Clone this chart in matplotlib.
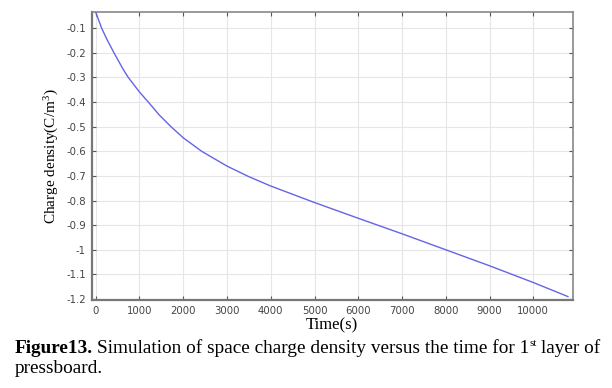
import matplotlib
matplotlib.use("Agg")
import matplotlib.pyplot as plt

# Data
time_s = [0, 137, 250, 418, 631, 745, 1000, 1203, 1450, 1721, 2000, 2422, 3000,
          3500, 4000, 5000, 6000, 7000, 8000, 9000, 10000, 10790]
charge = [-0.035, -0.1, -0.143, -0.2, -0.268, -0.3, -0.359, -0.4, -0.452, -0.5,
          -0.545, -0.6, -0.66, -0.703, -0.741, -0.808, -0.872, -0.935, -1.0,
          -1.065, -1.133, -1.19]
xticks = [0, 1000, 2000, 3000, 4000, 5000, 6000, 7000, 8000, 9000, 10000]
yticks = [-0.1, -0.2, -0.3, -0.4, -0.5, -0.6, -0.7, -0.8, -0.9, -1, -1.1, -1.2]
ytick_labels = ["-0.1", "-0.2", "-0.3", "-0.4", "-0.5", "-0.6", "-0.7", "-0.8",
                "-0.9", "-1", "-1.1", "-1.2"]

plt.rcParams["mathtext.fontset"] = "custom"
plt.rcParams["mathtext.rm"] = "Liberation Serif"
plt.rcParams["mathtext.it"] = "Liberation Serif:italic"

W, H = 612, 388
fig = plt.figure(figsize=(W / 100, H / 100), dpi=100)
left, right, top, bottom = 91.5, 572.7, 12, 300
ax = fig.add_axes([left / W, 1 - bottom / H, (right - left) / W, (bottom - top) / H])

ax.plot(time_s, charge, color="#6464e6", lw=1.0)
ax.set_xlim(-96, 10900)
ax.set_ylim(-1.204, -0.034)
ax.set_xticks(xticks)
ax.set_xticklabels([str(v) for v in xticks])
ax.set_yticks(yticks)
ax.set_yticklabels(ytick_labels)
ax.grid(True, color="#e6e6e6", lw=0.8)
ax.set_axisbelow(True)
ax.tick_params(direction="in", length=3, width=0.8, color="#555555",
               labelsize=7.3, labelcolor="#444444", top=True, right=True,
               pad=4)
for lbl in ax.get_xticklabels() + ax.get_yticklabels():
    lbl.set_fontfamily("DejaVu Sans")
for s in ["left", "bottom"]:
    ax.spines[s].set_color("#777777")
    ax.spines[s].set_linewidth(1.6)
for s in ["top", "right"]:
    ax.spines[s].set_color("#888888")
    ax.spines[s].set_linewidth(1.2)

ax.set_xlabel("Time(s)", family="Liberation Serif", fontsize=12, labelpad=1)
ax.set_ylabel("Charge density(C/m$^3$)", family="Liberation Serif",
              fontsize=11, labelpad=4)

# Caption
renderer = fig.canvas.get_renderer()
fs = 13.85
x0 = 15
y1 = H - 353
def put(x, y, s, **kw):
    t = fig.text(x / W, y / H, s, family="Liberation Serif", fontsize=kw.pop("fs", fs),
                 va="baseline", ha="left", **kw)
    bb = t.get_window_extent(renderer)
    return bb.x1

x = put(x0, y1, "Figure13.", weight="bold")
x = put(x + 4, y1, "Simulation of space charge density versus the time for 1")
x = put(x, y1 + 7, "st", fs=8)
x = put(x + 4, y1, "layer of")
put(x0, H - 373, "pressboard.")

fig.savefig("out.png", dpi=100)
